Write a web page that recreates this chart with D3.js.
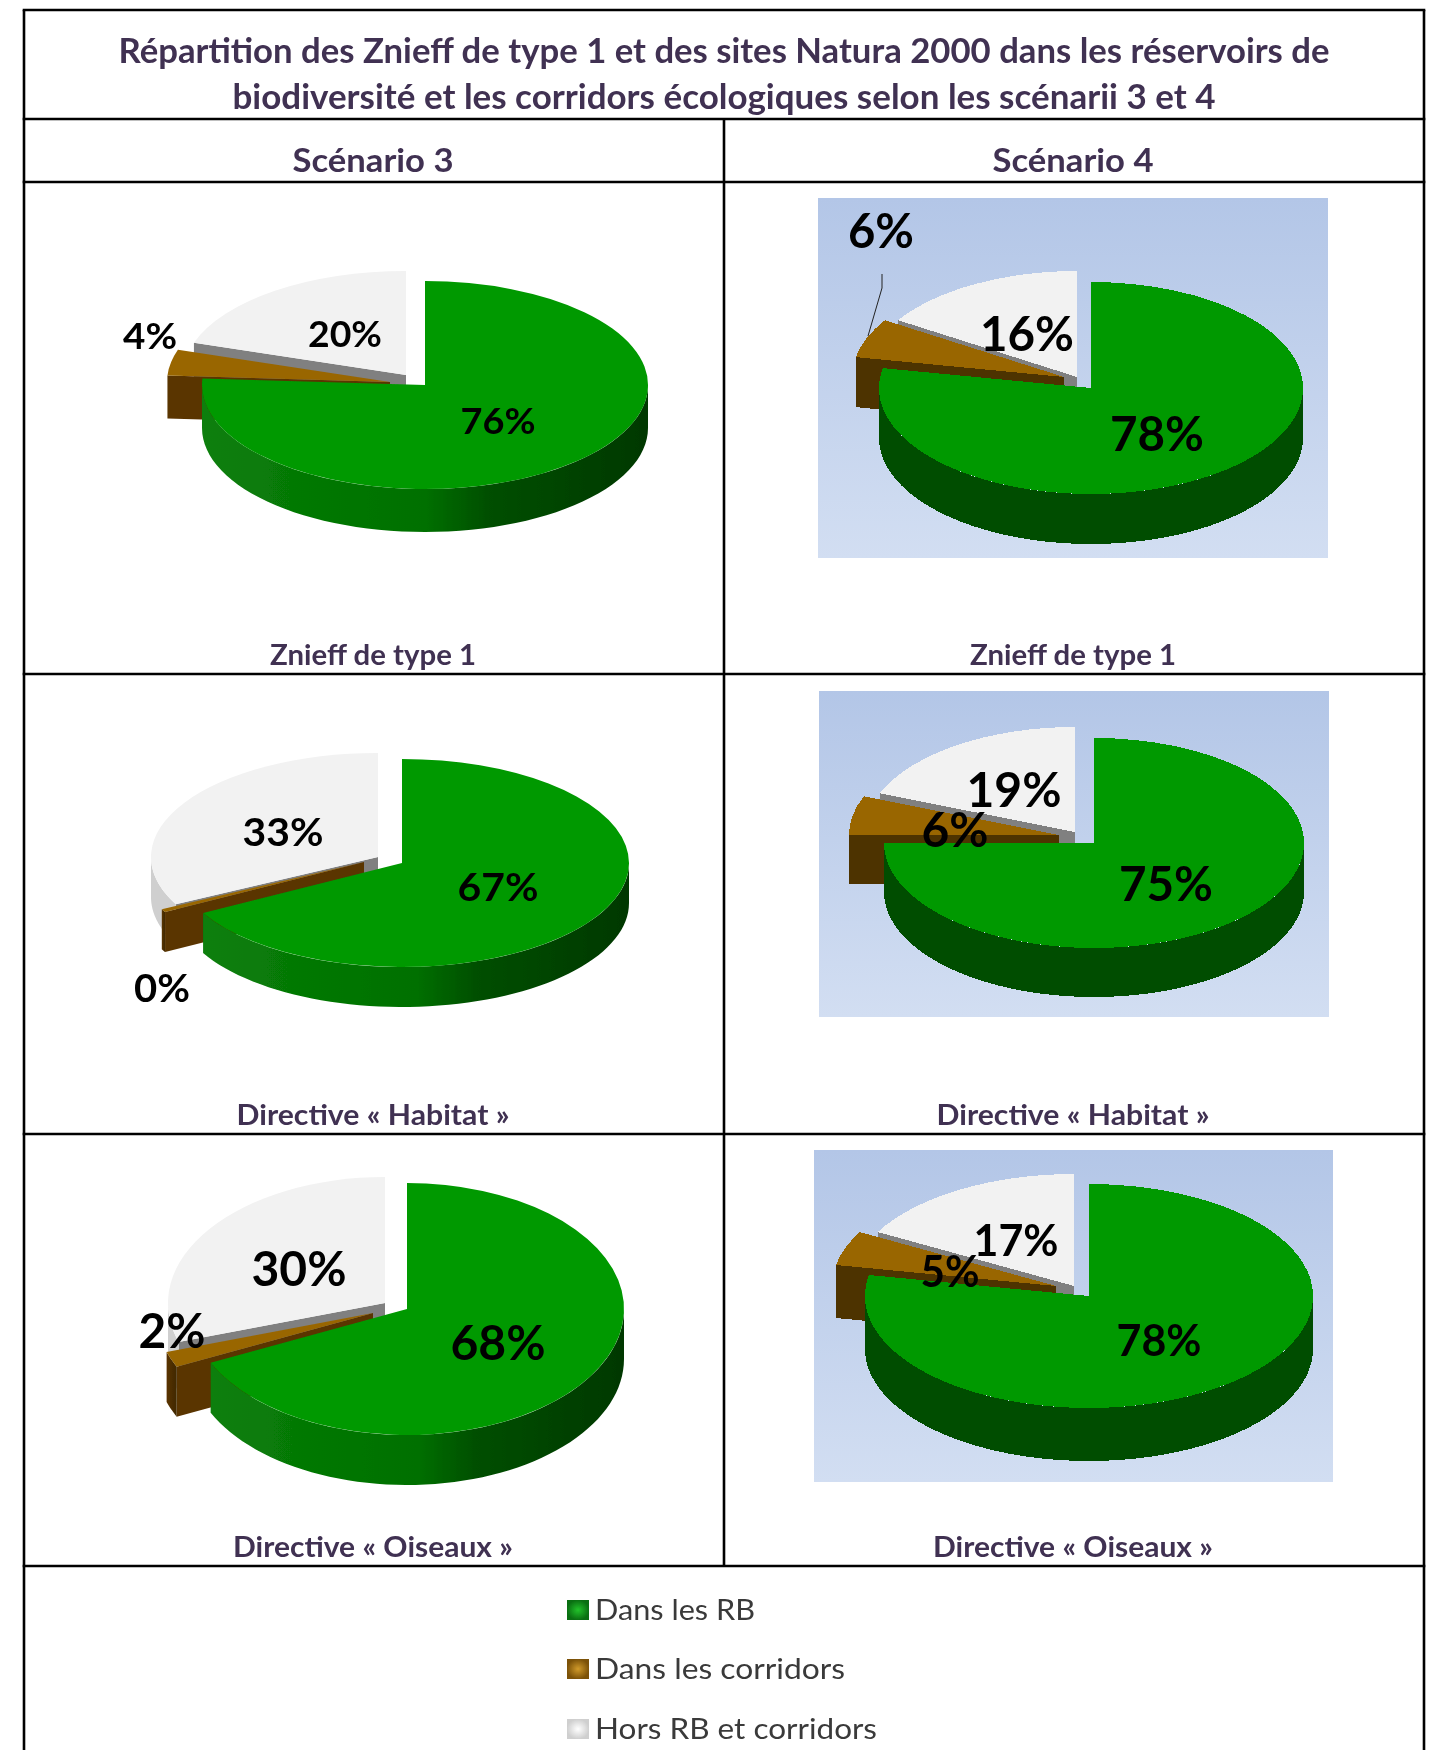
<!DOCTYPE html>
<html><head><meta charset="utf-8">
<style>html,body{margin:0;padding:0;background:#fff}svg{display:block}text{font-family:Lato,"Open Sans",sans-serif}</style>
<script src="https://cdn.jsdelivr.net/npm/d3@7"></script></head><body>
<svg id="c" width="1434" height="1750"></svg>
<script>
// ---- data ----
const titleLines = ["Répartition des Znieff de type 1 et des sites Natura 2000 dans les réservoirs de","biodiversité et les corridors écologiques selon les scénarii 3 et 4"];
const scenarios = ["Scénario 3","Scénario 4"];
const panelNames = ["Znieff de type 1","Directive « Habitat »","Directive « Oiseaux »"];
const categories = ["Dans les RB","Dans les corridors","Hors RB et corridors"];
const s3Znieff  = [76,4,20];
const s3Habitat = [67,0.49,32.51];
const s3Oiseaux = [68,2,30];
const s4Znieff  = [78,6,16];
const s4Habitat = [75,6,19];
const s4Oiseaux = [78,5,17];
const seriesValues = [s3Znieff,s3Habitat,s3Oiseaux,s4Znieff,s4Habitat,s4Oiseaux];

// ---- layout (pixels, not data) ----
const pieLayout = [
 {cx:425,cy:385,rx:223,ry:104,d:43,off:[[0,0],[-35,-3],[-19,-10]],font:36,lab:[[498,421],[150,336],[345,334]],w:[75,54,74]},
 {cx:402,cy:863,rx:227,ry:104,d:40,off:[[0,0],[-38,-1],[-24,-6]],font:38,lab:[[498,887],[162,988],[283,832]],w:[81,56,81]},
 {cx:407,cy:1309,rx:217,ry:126,d:50,off:[[0,0],[-34,4],[-22,-6]],font:48,lab:[[498,1343],[172,1331],[299,1269]],w:[95,67,95]},
 {cx:1091,cy:388,rx:212,ry:106,d:50,off:[[0,0],[-27,-11],[-14,-11]],font:48,lab:[[1157,434],[881,231],[1027,334]],w:[94,66,94]},
 {cx:1094,cy:843,rx:210,ry:105,d:49,off:[[0,0],[-35,-8],[-19,-11]],font:48,lab:[[1166,884],[955,830],[1014,790]],w:[94,67,95]},
 {cx:1089,cy:1296,rx:224,ry:112,d:53,off:[[0,0],[-33,-10],[-15,-10]],font:43,lab:[[1159,1341],[950,1272],[1016,1241]],w:[85,59,85]}
];
const backdrops = [null,null,null,{x:818,y:198,w:510,h:360},{x:819,y:691,w:510,h:326},{x:814,y:1150,w:519,h:332}];
const leader = [[882,274],[882,288],[868,336]];
const lineY = [10,119,182,674,1134,1566], lineXL=24, lineXR=1424, lineXM=724;
const colCentre = [373,1073];
const panelLabelY = [655,1115,1547];
const panelLabelW = [206,273,280];
const legendY = [1610,1669,1729];
const legendW = [158,248,280];
const topFill = ["#009900","#996600","#f2f2f2"];
const wallFill = ["#004d00","#4d3300","#808080"];
const titleCol = "#403152";

const svg = d3.select("#c");
const defs = svg.append("defs");
const bg = defs.append("linearGradient").attr("id","bg").attr("x1",0).attr("x2",0).attr("y1",0).attr("y2",1);
bg.append("stop").attr("offset",0).attr("stop-color","#b3c6e7");
bg.append("stop").attr("offset",1).attr("stop-color","#d2def2");
const gw = defs.append("linearGradient").attr("id","gw");
[[0,"#0a7f0a"],[.5,"#007000"],[.64,"#004f00"],[1,"#003800"]].forEach(s=>gw.append("stop").attr("offset",s[0]).attr("stop-color",s[1]));
const bw = defs.append("linearGradient").attr("id","bw");
[[0,"#5a3300"],[1,"#3f2800"]].forEach(s=>bw.append("stop").attr("offset",s[0]).attr("stop-color",s[1]));
[["sw0","#22c22a","#0a6f12"],["sw1","#d09a2a","#7c5208"],["sw2","#ffffff","#cfcfcf"]].forEach(s=>{
  const g=defs.append("radialGradient").attr("id",s[0]);
  g.append("stop").attr("offset",0).attr("stop-color",s[1]);
  g.append("stop").attr("offset",1).attr("stop-color",s[2]);
});
defs.append("filter").attr("id","soft").append("feGaussianBlur").attr("stdDeviation",0.7);

function fit(sel,w){ sel.attr("textLength",w).attr("lengthAdjust","spacingAndGlyphs"); return sel; }

backdrops.forEach(b=>{ if(b) svg.append("rect").attr("x",b.x).attr("y",b.y).attr("width",b.w).attr("height",b.h).attr("fill","url(#bg)"); });

const pie = d3.pie().sort(null).startAngle(0).endAngle(2*Math.PI);
const pct = d3.format(".0f");
seriesValues.forEach((vals,pi)=>{
  const L = pieLayout[pi], flat = pi>=3;
  const x = d3.scaleLinear().domain([-1,1]).range([-L.rx,L.rx]);
  const y = d3.scaleLinear().domain([-1,1]).range([L.ry,-L.ry]);
  const arcs = pie(vals);
  const arc = d3.arc().innerRadius(0).outerRadius(L.rx);
  const line = d3.line();
  const g = svg.append("g").attr("shape-rendering",flat?"crispEdges":"auto");
  if(!flat) g.attr("filter","url(#soft)");
  [2,1,0].forEach(i=>{
    const a = arcs[i], o = L.off[i];
    const sl = g.append("g").attr("transform",`translate(${L.cx+o[0]},${L.cy+o[1]})`);
    const rim = t=>[x(Math.sin(t)),y(Math.cos(t))];
    const fillW = flat?wallFill[i]:(i===0?"url(#gw)":i===1?"url(#bw)":"#cfcfcf");
    [[a.startAngle,Math.sin(a.startAngle)<0],[a.endAngle,Math.sin(a.endAngle)>1e-6]].forEach(([t,vis])=>{
      if(!vis) return;
      const p=rim(t);
      sl.append("path").attr("d",line([[0,0],p,[p[0],p[1]+L.d],[0,L.d]])+"Z").attr("fill",flat?wallFill[i]:(i===1?"#5a3400":wallFill[i]));
    });
    const lo=Math.max(a.startAngle,Math.PI/2), hi=Math.min(a.endAngle,3*Math.PI/2);
    if(hi>lo){
      const ts=d3.range(0,61).map(k=>lo+(hi-lo)*k/60);
      const pts=ts.map(rim);
      const pts2=pts.map(p=>[p[0],p[1]+L.d]).reverse();
      sl.append("path").attr("d",line(pts.concat(pts2))+"Z").attr("fill",fillW);
    }
    sl.append("path").attr("transform",`scale(1,${L.ry/L.rx})`).attr("d",arc(a)).attr("fill",topFill[i]);
  });
});

svg.append("path").attr("d",d3.line()(leader)).attr("fill","none").attr("stroke","#222").attr("stroke-width",1);

seriesValues.forEach((vals,pi)=>{
  const L=pieLayout[pi];
  vals.forEach((v,i)=>{
    fit(svg.append("text").attr("x",L.lab[i][0]).attr("y",L.lab[i][1]).attr("dy",".36em")
      .attr("text-anchor","middle").attr("font-size",L.font).attr("font-weight",700).attr("fill","#000")
      .text(pct(v)+"%"),L.w[i]);
  });
});

const lc="#000", lw=2.6;
const hl=(y,a,b)=>svg.append("line").attr("x1",a).attr("x2",b).attr("y1",y).attr("y2",y).attr("stroke",lc).attr("stroke-width",lw);
const vl=(x,a,b)=>svg.append("line").attr("x1",x).attr("x2",x).attr("y1",a).attr("y2",b).attr("stroke",lc).attr("stroke-width",lw);
lineY.forEach(y=>hl(y,lineXL-1.3,lineXR+1.3));
vl(lineXL,lineY[0],1750); vl(lineXR,lineY[0],1750); vl(lineXM,lineY[1],lineY[5]);

titleLines.forEach((t,i)=>{
  fit(svg.append("text").attr("x",724).attr("y",[51,97][i]).attr("dy",".36em").attr("text-anchor","middle")
   .attr("font-size",34).attr("font-weight",700).attr("fill",titleCol).text(t),[1211,983][i]);
});
scenarios.forEach((t,i)=>{
  fit(svg.append("text").attr("x",colCentre[i]).attr("y",160).attr("dy",".36em").attr("text-anchor","middle")
   .attr("font-size",32).attr("font-weight",700).attr("fill",titleCol).text(t),161);
  panelNames.forEach((n,j)=>{
    fit(svg.append("text").attr("x",colCentre[i]).attr("y",panelLabelY[j]).attr("dy",".36em").attr("text-anchor","middle")
     .attr("font-size",28).attr("font-weight",700).attr("fill",titleCol).text(n),panelLabelW[j]);
  });
});

categories.forEach((c,i)=>{
  svg.append("rect").attr("x",567).attr("y",legendY[i]-10).attr("width",22).attr("height",20).attr("fill",`url(#sw${i})`);
  fit(svg.append("text").attr("x",595).attr("y",legendY[i]).attr("dy",".36em").attr("font-size",28).attr("fill","#3a3a3a").text(c),legendW[i]+2);
});
</script></body></html>
